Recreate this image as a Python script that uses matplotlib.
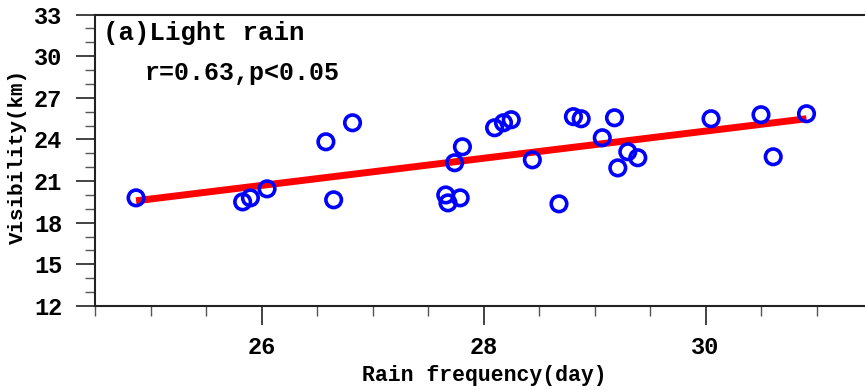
import numpy as np
import matplotlib
matplotlib.use("Agg")
import matplotlib.pyplot as plt
from matplotlib.ticker import MultipleLocator

# rain frequency (day) and visibility (km)
rain_days = [24.87, 25.83, 25.90, 26.05, 26.58, 26.65, 26.82,
             27.66, 27.68, 27.79, 27.74, 27.81, 28.10, 28.18, 28.25,
             28.44, 28.68, 28.81, 28.88, 29.07, 29.18, 29.21, 29.30,
             29.39, 30.05, 30.50, 30.61, 30.91]
visibility = [19.79, 19.50, 19.79, 20.44, 23.83, 19.65, 25.20,
              20.00, 19.43, 19.79, 22.32, 23.47, 24.84, 25.20, 25.42,
              22.53, 19.36, 25.64, 25.49, 24.12, 25.56, 21.95, 23.11,
              22.68, 25.49, 25.78, 22.75, 25.85]

# regression line end points
fit_x = [24.87, 30.91]
fit_y = [19.58, 25.49]

FONT = "Liberation Mono"

fig = plt.figure(figsize=(8.65, 3.9), dpi=100)
ax = fig.add_axes([95 / 865, 84 / 390, 777 / 865, 291.5 / 390])

ax.plot(fit_x, fit_y, color="red", lw=5, solid_capstyle="butt", zorder=2)
ax.scatter(rain_days, visibility, s=125, facecolors="none",
           edgecolors="blue", linewidths=2.6, zorder=3)

ax.set_xlim(24.5, 31.5)
ax.set_ylim(12, 33)
ax.xaxis.set_major_locator(MultipleLocator(2))
ax.xaxis.set_minor_locator(MultipleLocator(0.5))
ax.yaxis.set_major_locator(MultipleLocator(3))
ax.yaxis.set_minor_locator(MultipleLocator(1))
ax.set_xticks([26, 28, 30])

for s in ax.spines.values():
    s.set_linewidth(1.5)
    s.set_color("#222222")
ax.tick_params(which="major", direction="out", length=13.5, width=1.2,
               pad=10, labelsize=17, colors="#222222", labelcolor="black")
ax.tick_params(which="minor", direction="out", length=7, width=1.0,
               colors="#555555")
ax.tick_params(axis="x", which="major", pad=8)
for lab in ax.get_xticklabels() + ax.get_yticklabels():
    lab.set_fontfamily(FONT)
    lab.set_fontweight("bold")

ax.text(0.0105, 0.938, "(a)Light rain", transform=ax.transAxes,
        fontsize=18.5, fontfamily=FONT, fontweight="bold", va="center", ha="left")
ax.text(0.0644, 0.801, "r=0.63,p<0.05", transform=ax.transAxes,
        fontsize=18, fontfamily=FONT, fontweight="bold", va="center", ha="left")

fig.text(484 / 865, 1 - 376 / 390, "Rain frequency(day)", fontsize=15.5,
         fontfamily=FONT, fontweight="bold", ha="center", va="center")
fig.text(17 / 865, 1 - 156 / 390, "Visibility(km)", fontsize=15,
         fontfamily=FONT, fontweight="bold", ha="center", va="center",
         rotation=90)

fig.savefig("out.png", dpi=100)
